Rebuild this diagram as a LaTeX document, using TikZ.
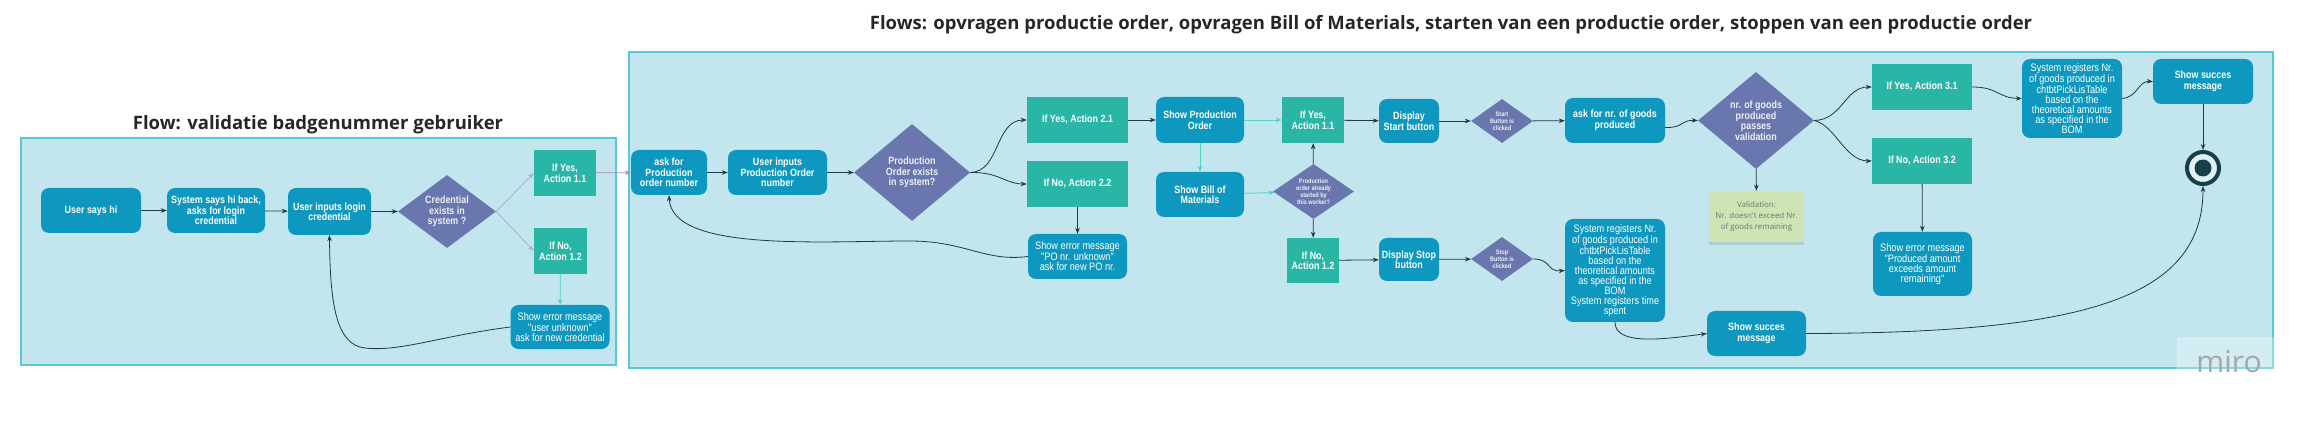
\documentclass[tikz,border=0pt]{standalone}
\usepackage{fontspec}
\usepackage{tikz}
\setmainfont{Liberation Sans}
\newfontfamily\boxfont{Liberation Sans}[FakeStretch=0.85]
\newfontfamily\titlefont{Open Sans}
\definecolor{framefill}{HTML}{C2E5EE}
\definecolor{frameline}{HTML}{55C9D8}
\definecolor{boxblue}{HTML}{0E98C0}
\definecolor{actgreen}{HTML}{2AB6A7}
\definecolor{decpurple}{HTML}{6A77AF}
\definecolor{notegreen}{HTML}{CFE4B4}
\definecolor{darkline}{HTML}{1E3A44}
\definecolor{endfill}{HTML}{173E4A}
\definecolor{tealline}{HTML}{5ACFC6}
\definecolor{greyline}{HTML}{A3B3D3}
\definecolor{lilacline}{HTML}{A68CC6}
\tikzset{basic/.style={draw=none,text=white,align=center,inner sep=0pt,font=\boxfont\bfseries\fontsize{10.5}{10.5}\selectfont}}
\tikzset{process/.style={basic,rectangle,rounded corners=8pt,fill=boxblue}}
\tikzset{message/.style={process,font=\boxfont\fontsize{10.8}{10}\selectfont}}
\tikzset{action/.style={basic,rectangle,fill=actgreen}}
\tikzset{decision/.style={basic,diamond,fill=decpurple,text=white!88!decpurple}}
\usetikzlibrary{arrows.meta, shapes, shadows}

\begin{document}
\begin{tikzpicture}[x=1pt,y=-1pt,>={Stealth[length=6pt,width=4.5pt]}]
		\tikzstyle{flow}=[->,draw=darkline,line width=0.8pt]
		\tikzstyle{soft}=[->,draw=tealline,line width=0.8pt]
		\tikzstyle{faint}=[->,draw=greyline,line width=0.8pt]
		\tikzstyle{lane}=[draw=frameline,fill=framefill,line width=1.2pt,inner sep=0pt]
		\tikzstyle{heading}=[font=\titlefont\bfseries\fontsize{18.5}{18.5}\selectfont,text=black!85]
		\tikzstyle{tiny}=[decision,font=\boxfont\bfseries\fontsize{6.5}{7}\selectfont]
		\tikzstyle{finish}=[circle,draw=endfill,line width=4pt,fill=framefill!50!white,minimum size=32pt,inner sep=0pt,
			path picture={\fill[endfill] (path picture bounding box.center) circle (8.5pt);}]

		\fill[white] (0,0) rectangle (2321,430);
		\useasboundingbox (0,0) rectangle (2321,430);

		% lanes and titles
		\node[lane,minimum width=595pt,minimum height=227pt](laneA) at (318.5,251.5){};
		\node[lane,minimum width=1644pt,minimum height=316pt](laneB) at (1451,210){};
		\node[heading](titleA) at (318,125){Flow: validatie badgenummer gebruiker};
		\node[heading](titleB) at (1451,25){Flows: opvragen productie order, opvragen Bill of Materials, starten van een productie order, stoppen van een productie order};

		% badge validation
		\node[process,minimum width=100pt,minimum height=45pt](hi) at (91,210.5){User says hi};
		\node[process,minimum width=98pt,minimum height=45pt](hiback) at (216,210.5){System says hi back,\\asks for login\\credential};
		\node[process,minimum width=83pt,minimum height=47pt](login) at (329.5,211.5){User inputs login\\credential};
		\node[decision,aspect=1.34,minimum width=98pt,minimum height=73pt](cred) at (447,211.5){Credential\\exists in\\system ?};
		\node[action,minimum width=62pt,minimum height=46pt](yesA) at (565,173){If Yes,\\Action 1.1};
		\node[action,minimum width=53pt,minimum height=46pt](noA) at (560.5,251){If No,\\Action 1.2};
		\node[message,minimum width=99pt,minimum height=44pt](errA) at (560,327){Show error message\\"user unknown"\\ask for new credential};

		% production order
		\node[process,minimum width=76pt,minimum height=45pt](askpo) at (669,172.5){ask for\\Production\\order number};
		\node[process,minimum width=99pt,minimum height=45pt](userpo) at (777.5,172.5){User inputs\\Production Order\\number};
		\node[decision,aspect=1.2,minimum width=116pt,minimum height=97pt](poexists) at (912,172.5){Production\\Order exists\\in system?};
		\node[action,minimum width=101pt,minimum height=46pt](yesB) at (1077.5,120){If Yes, Action 2.1};
		\node[action,minimum width=101pt,minimum height=46pt](noB) at (1077.5,184){If No, Action 2.2};
		\node[message,minimum width=99pt,minimum height=45pt](errB) at (1077.5,256.5){Show error message\\"PO nr. unknown"\\ask for new PO nr.};
		\node[process,minimum width=88pt,minimum height=46pt](showpo) at (1200,120){Show Production\\Order};
		\node[process,minimum width=88pt,minimum height=45pt](showbom) at (1200,194.5){Show Bill of\\Materials};
		\node[action,minimum width=62pt,minimum height=46pt](yesC) at (1313,120){If Yes,\\Action 1.1};
		\node[tiny,aspect=1.47,minimum width=81pt,minimum height=55pt](started) at (1313.5,191.5){Production\\order already\\started by\\this worker?};
		\node[action,minimum width=52pt,minimum height=45pt](noC) at (1313,260.5){If No,\\Action 1.2};
		\node[process,minimum width=60pt,minimum height=44pt](dispstart) at (1409,121){Display\\Start button};
		\node[tiny,aspect=1.4,minimum width=62pt,minimum height=44pt](startclick) at (1502,121){Start\\Button is\\clicked};
		\node[process,minimum width=100pt,minimum height=45pt](asknr) at (1615,120.5){ask for nr. of goods\\produced};
		\node[process,minimum width=60pt,minimum height=43pt](dispstop) at (1409,259.5){Display Stop\\button};
		\node[tiny,aspect=1.4,minimum width=62pt,minimum height=44pt](stopclick) at (1502,259){Stop\\Button is\\clicked};
		\node[message,minimum width=100pt,minimum height=103pt](sysreg) at (1615,270.5){System registers Nr.\\of goods produced in\\chtbtPickLisTable\\based on the\\theoretical amounts\\as specified in the\\BOM\\System registers time\\spent};

		% amount validation
		\node[decision,aspect=1.2,minimum width=116pt,minimum height=97pt](nrgoods) at (1756,120.5){nr. of goods\\produced\\passes\\validation};
		\node[fill=notegreen,text=black!55,align=center,inner sep=0pt,minimum width=95pt,minimum height=51pt,
			font=\titlefont\fontsize{7.9}{11}\selectfont,drop shadow={opacity=0.25,shadow xshift=0pt,shadow yshift=-3pt}](note) at (1756.5,216.5){Validation:\\Nr. doesn't exceed Nr.\\of goods remaining};
		\node[action,minimum width=100pt,minimum height=46pt](yesD) at (1922,87){If Yes, Action 3.1};
		\node[action,minimum width=100pt,minimum height=46pt](noD) at (1922,161){If No, Action 3.2};
		\node[message,minimum width=99pt,minimum height=64pt](errD) at (1922.5,264){Show error message\\"Produced amount\\exceeds amount\\remaining"};
		\node[message,minimum width=100pt,minimum height=79pt](sysregB) at (2072,98.5){System registers Nr.\\of goods produced in\\chtbtPickLisTable\\based on the\\theoretical amounts\\as specified in the\\BOM};
		\node[process,minimum width=100pt,minimum height=45pt](succA) at (2203,81.5){Show succes\\message};
		\node[process,minimum width=99pt,minimum height=45pt](succB) at (1756.5,333.5){Show succes\\message};
		\node[finish](endc) at (2203,168){};

		\node[fill=white,fill opacity=0.3,minimum width=103pt,minimum height=43pt,inner sep=0pt](miropanel) at (2228.5,358.5){};
		\node[text=black!35,font=\titlefont\fontsize{30}{30}\selectfont,anchor=base](miro) at (2229,372){miro};

		\draw[flow] (hi) -- (hiback);
		\draw[flow] (hiback) -- (login);
		\draw[flow] (login) -- (cred);
		\draw[faint] (cred.east) -- (yesA.west);
		\draw[faint] (cred.east) -- (noA.west);
		\draw[soft] (noA) -- (errA);
		\draw[faint,draw=lilacline] (yesA) -- (askpo);
		\draw[flow] (errA.west) .. controls (440,336) and (400,352) .. (365,348) .. controls (335,345) and (330,300) .. (login.south);

		\draw[flow] (askpo) -- (userpo);
		\draw[flow] (userpo) -- (poexists);
		\draw[flow] (poexists.east) .. controls (1000,172) and (995,120) .. (yesB.west);
		\draw[flow] (poexists.east) .. controls (1000,172) and (1005,184) .. (noB.west);
		\draw[flow] (noB) -- (errB);
		\draw[flow] (errB.west) .. controls (985,262) and (965,241) .. (910,241) .. controls (820,241) and (672,252) .. (askpo.south);

		\draw[flow] (yesB) -- (showpo);
		\draw[soft] (showpo) -- (yesC);
		\draw[soft] (showpo) -- (showbom);
		\draw[soft] (showbom) -- (started);
		\draw[flow] (started) -- (yesC);
		\draw[flow] (started) -- (noC);
		\draw[flow] (yesC) -- (dispstart);
		\draw[flow] (dispstart) -- (startclick);
		\draw[flow] (startclick) -- (asknr);
		\draw[flow] (noC) -- (dispstop);
		\draw[flow] (dispstop) -- (stopclick);
		\draw[flow] (stopclick.east) .. controls (1552,259) and (1546,272) .. (sysreg.west);

		\draw[flow] ([yshift=-7pt]asknr.east) .. controls (1684,128) and (1680,120) .. (nrgoods.west);
		\draw[flow] (nrgoods.east) .. controls (1842,120) and (1845,87) .. (yesD.west);
		\draw[flow] (nrgoods.east) .. controls (1835,125) and (1845,161) .. (noD.west);
		\draw[flow] (nrgoods) -- (note);
		\draw[flow] (noD) -- (errD);
		\draw[flow] (yesD.east) .. controls (1998,87) and (1998,98) .. (sysregB.west);
		\draw[flow] (sysregB.east) .. controls (2138,97) and (2138,81) .. (succA.west);
		\draw[flow] (succA) -- (endc);
		\draw[flow] (sysreg.south) .. controls (1615,345) and (1660,340) .. (succB.west);
		\draw[flow] (succB.east) .. controls (2080,333) and (2203,300) .. (endc.south);
	\end{tikzpicture}
\end{document}
